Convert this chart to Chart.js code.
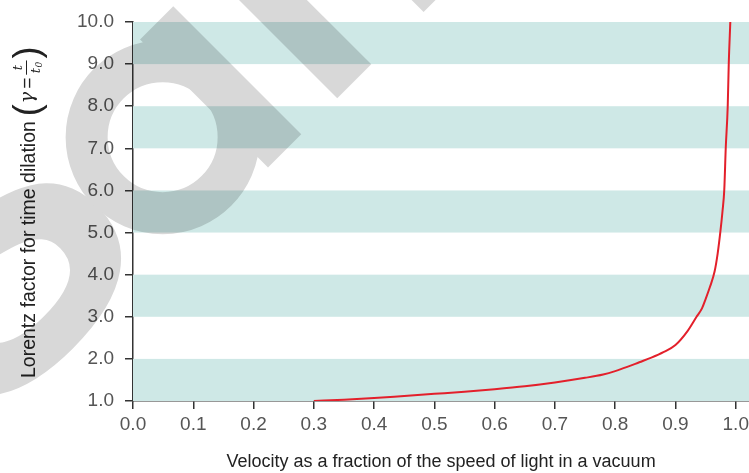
<!DOCTYPE html>
<html>
<head>
<meta charset="utf-8">
<script src="https://cdn.jsdelivr.net/npm/chart.js@4"></script>
<style>
  body { margin: 0; background: #fff; }
  #wrap { width: 749px; height: 473px; position: relative; }
</style>
</head>
<body>
<div id="wrap"><canvas id="lorentzChart"></canvas></div>
<script>
// Values
const velocity = [0.30, 0.35, 0.40, 0.45, 0.50, 0.55, 0.60, 0.65, 0.70, 0.75, 0.78, 0.80, 0.82, 0.84, 0.86, 0.88, 0.90, 0.92, 0.935, 0.944, 0.950, 0.957, 0.965, 0.970, 0.9745, 0.978, 0.981, 0.9834, 0.9867, 0.9884, 0.991];
const gamma = [1.00, 1.03, 1.07, 1.12, 1.17, 1.22, 1.28, 1.35, 1.44, 1.55, 1.63, 1.71, 1.81, 1.92, 2.03, 2.16, 2.33, 2.66, 3.00, 3.20, 3.42, 3.70, 4.08, 4.50, 5.02, 5.50, 6.02, 7.00, 8.00, 9.00, 10.00];
const xTicks = [0.0, 0.1, 0.2, 0.3, 0.4, 0.5, 0.6, 0.7, 0.8, 0.9, 1.0];
const bands = [[1, 2], [3, 4], [5, 6], [7, 8], [9, 10]];

const xTitle = 'Velocity as a fraction of the speed of light in a vacuum';
const yTitle = 'Lorentz factor for time dilation';

document.addEventListener("DOMContentLoaded", () => {
    const ctx = document.getElementById('lorentzChart').getContext('2d');

    // shaded horizontal bands behind the curve
    const bandPlugin = {
        id: 'bands',
        beforeDatasetsDraw(chart) {
            const { ctx, chartArea, scales } = chart;
            ctx.save();
            ctx.fillStyle = '#cee8e6';
            bands.forEach(([lo, hi]) => {
                const top = scales.y.getPixelForValue(hi);
                const bottom = scales.y.getPixelForValue(lo);
                ctx.fillRect(chartArea.left, top, chartArea.right - chartArea.left, bottom - top);
            });
            ctx.restore();
        }
    };

    // rotated y title with the gamma = t / t0 formula
    const yTitlePlugin = {
        id: 'yTitle',
        afterDraw(chart) {
            const c = chart.ctx;
            c.save();
            c.translate(35, 378);
            c.rotate(-Math.PI / 2);
            c.fillStyle = '#222';
            c.textBaseline = 'alphabetic';
            c.textAlign = 'left';
            c.font = '19.5px "Liberation Sans", Arial, sans-serif';
            c.fillText(yTitle, 0, 0);
            let x = c.measureText(yTitle).width + 5;
            c.font = '36px "Liberation Sans", Arial, sans-serif';
            c.fillText('(', x, 4);
            x += c.measureText('(').width + 1;
            c.font = 'italic 19px "DejaVu Serif", serif';
            c.fillText('γ', x, -2);
            x += c.measureText('γ').width + 3;
            c.font = '19px "Liberation Sans", Arial, sans-serif';
            c.fillText('=', x, -2);
            x += c.measureText('=').width + 3;
            c.font = 'italic 13px "DejaVu Serif", serif';
            const fw = c.measureText('t').width + 9;
            c.textAlign = 'center';
            c.fillText('t', x + fw / 2, -13);
            c.fillRect(x, -9, fw, 1);
            c.fillText('t', x + fw / 2 - 3, 5);
            c.font = 'italic 9px "DejaVu Serif", serif';
            c.fillText('0', x + fw / 2 + 3, 7);
            x += fw + 2;
            c.textAlign = 'left';
            c.font = '36px "Liberation Sans", Arial, sans-serif';
            c.fillText(')', x, 4);
            c.restore();
        }
    };

    // diagonal "Sample" watermark, drawn once offscreen then multiplied over the chart
    const watermarkPlugin = {
        id: 'watermark',
        afterDraw(chart) {
            const off = document.createElement('canvas');
            off.width = chart.width;
            off.height = chart.height;
            const o = off.getContext('2d');
            o.fillStyle = '#d8d8d8';
            o.strokeStyle = '#d8d8d8';
            o.rotate(-Math.PI / 4);
            o.font = 'bold 400px "Liberation Sans", Arial, sans-serif';
            o.fillText('S', -328, 294);
            o.lineWidth = 42;
            o.beginPath();
            o.arc(18, 212, 76, 0, Math.PI * 2);
            o.stroke();
            o.fillRect(71, 127, 47, 181);
            o.fillRect(169, -200, 48, 508);
            o.fillRect(291, -200, 48, 508);

            const c = chart.ctx;
            c.save();
            c.globalCompositeOperation = 'multiply';
            c.drawImage(off, 0, 0);
            c.restore();
        }
    };

    new Chart(ctx, {
        type: 'line',
        data: {
            datasets: [
                {
                    data: velocity.map((v, i) => ({ x: v, y: gamma[i] })),
                    borderColor: '#e3202b',
                    borderWidth: 2,
                    pointRadius: 0,
                    fill: false,
                    cubicInterpolationMode: 'monotone',
                },
            ],
        },
        options: {
            responsive: true,
            maintainAspectRatio: false,
            animation: false,
            layout: { padding: { top: 22, right: 0, left: 0, bottom: 0 } },
            plugins: {
                legend: { display: false },
                tooltip: { enabled: false },
            },
            scales: {
                x: {
                    type: 'linear',
                    min: 0,
                    max: 1.022,
                    afterBuildTicks: (scale) => {
                        scale.ticks = xTicks.map((v) => ({ value: v }));
                    },
                    afterFit: (scale) => {
                        scale.height = 72;
                        scale.paddingRight = 0;
                        scale.paddingLeft = 0;
                    },
                    border: { color: '#333', width: 1.5 },
                    grid: { drawOnChartArea: false, color: '#333', lineWidth: 1.5, tickLength: 8 },
                    ticks: {
                        color: '#555',
                        padding: 4,
                        maxRotation: 0,
                        font: { family: '"Liberation Sans", Arial, sans-serif', size: 19 },
                        callback: (v) => Number(v).toFixed(1),
                    },
                    title: {
                        display: true,
                        text: xTitle,
                        color: '#222',
                        font: { family: '"Liberation Sans", Arial, sans-serif', size: 18 },
                        padding: { top: 14, bottom: 0 },
                    },
                },
                y: {
                    type: 'linear',
                    min: 1,
                    max: 10,
                    afterFit: (scale) => {
                        scale.width = 133;
                        scale.paddingTop = 0;
                        scale.paddingBottom = 0;
                    },
                    border: { color: '#333', width: 1.5 },
                    grid: { drawOnChartArea: false, color: '#333', lineWidth: 1.5, tickLength: 8 },
                    ticks: {
                        stepSize: 1,
                        color: '#555',
                        padding: 11,
                        font: { family: '"Liberation Sans", Arial, sans-serif', size: 19 },
                        callback: (v) => Number(v).toFixed(1),
                    },
                },
            },
        },
        plugins: [bandPlugin, yTitlePlugin, watermarkPlugin],
    });
});
</script>
</body>
</html>
